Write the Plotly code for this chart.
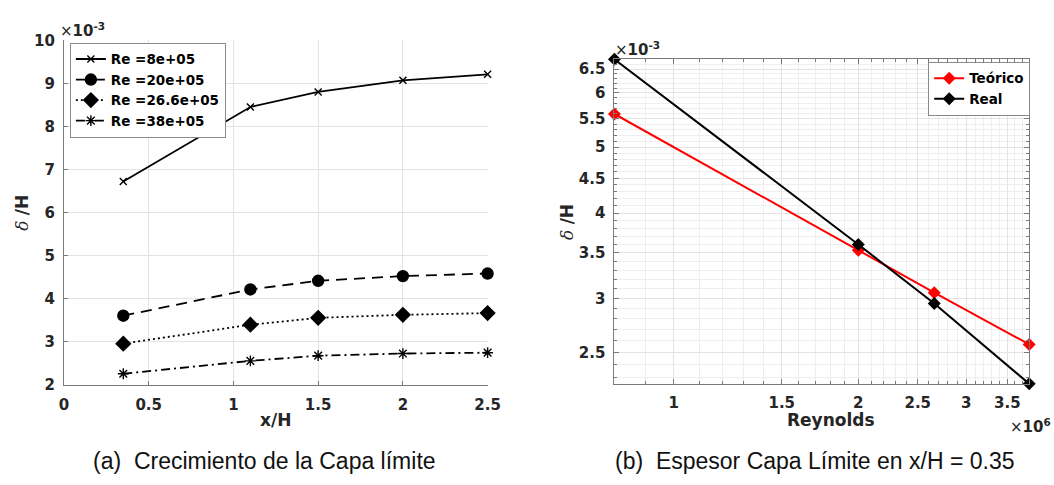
import numpy as np
import plotly.graph_objects as go

# ---- data ----
x_over_h = [0.35, 1.1, 1.5, 2.0, 2.5]
re_labels = ["Re =8e+05", "Re =20e+05", "Re =26.6e+05", "Re =38e+05"]
delta_re08 = [6.72, 8.45, 8.80, 9.07, 9.21]      # x1e-3
delta_re20 = [3.60, 4.21, 4.41, 4.52, 4.58]
delta_re266 = [2.95, 3.39, 3.55, 3.62, 3.66]
delta_re38 = [2.25, 2.55, 2.67, 2.72, 2.74]

reynolds = [0.8e6, 2.0e6, 2.66e6, 3.8e6]
delta_teorico = [5.59e-3, 3.53e-3, 3.06e-3, 2.57e-3]
delta_real = [6.72e-3, 3.60e-3, 2.95e-3, 2.25e-3]

left_xticks = [0, 0.5, 1, 1.5, 2, 2.5]
left_yticks = [2, 3, 4, 5, 6, 7, 8, 9, 10]
right_xticks = [1.0e6, 1.5e6, 2.0e6, 2.5e6, 3.0e6, 3.5e6]
right_xticktext = ["1", "1.5", "2", "2.5", "3", "3.5"]
right_yticks = [2.5e-3, 3.0e-3, 3.5e-3, 4.0e-3, 4.5e-3, 5.0e-3, 5.5e-3, 6.0e-3, 6.5e-3]
right_yticktext = ["2.5", "3", "3.5", "4", "4.5", "5", "5.5", "6", "6.5"]

# ---- styling ----
W, H = 1054, 485
TXT = "#262626"
AXC = "#7a7a7a"
GRID = "#e3e3e3"
MINOR_GRID = "#eeeeee"
TICKFONT = dict(family="DejaVu Sans", size=15, color=TXT, weight="bold")
LEGFONT = dict(family="DejaVu Sans", size=13.5, color="#000000", weight="bold")


def px_x(p):
    return p / W


def px_y(p):
    return 1 - p / H


fig = go.Figure()

# left panel: boundary-layer growth
left_series = [delta_re08, delta_re20, delta_re266, delta_re38]
left_dash = ["solid", "11px,7px", "2px,3px", "9px,4px,2px,4px"]
left_sym = ["x-thin", "circle", "diamond", "asterisk"]
left_msize = [7, 11, 11, 9]
for lab, ys, dash, sym, ms in zip(re_labels, left_series, left_dash, left_sym, left_msize):
    fig.add_trace(go.Scatter(
        x=x_over_h, y=ys, name=lab, mode="lines+markers",
        xaxis="x", yaxis="y", legend="legend", cliponaxis=False,
        line=dict(color="black", width=1.8, dash=dash),
        marker=dict(symbol=sym, size=ms, color="black",
                    line=dict(color="black", width=1.4)),
    ))

# right panel: thickness vs Reynolds (log-log)
fig.add_trace(go.Scatter(
    x=reynolds, y=delta_teorico, name="Teórico", mode="lines+markers",
    xaxis="x2", yaxis="y2", legend="legend2", cliponaxis=False,
    line=dict(color="#ff0000", width=2),
    marker=dict(symbol="diamond", size=10, color="#ff0000"),
))
fig.add_trace(go.Scatter(
    x=reynolds, y=delta_real, name="Real", mode="lines+markers",
    xaxis="x2", yaxis="y2", legend="legend2", cliponaxis=False,
    line=dict(color="#000000", width=2),
    marker=dict(symbol="diamond", size=10, color="#000000"),
))

# tight log ranges (tiny pad so end markers are not culled)
eps = 1e-5
rx = [np.log10(min(reynolds)) - eps, np.log10(max(reynolds)) + eps]
all_d = delta_teorico + delta_real
ry = [np.log10(min(all_d)) - eps, np.log10(max(all_d)) + eps]

x_minor = [v * 1e5 for v in range(8, 39) if v % 5 != 0]
y_minor = [v * 1e-4 for v in range(23, 68) if v % 5 != 0]

fig.update_layout(
    width=W, height=H, autosize=False,
    margin=dict(l=0, r=0, t=0, b=0),
    paper_bgcolor="white", plot_bgcolor="white",
    font=dict(family="DejaVu Sans", color=TXT),
    xaxis=dict(
        domain=[px_x(60), px_x(491)], anchor="y",
        range=[0, 2.5 + 1e-6], tickvals=left_xticks,
        ticktext=[f"{v:g}" for v in left_xticks],
        showgrid=True, gridcolor=GRID, gridwidth=1, zeroline=False,
        showline=True, linecolor=AXC, linewidth=1,
        ticks="inside", ticklen=4, tickcolor=AXC, tickfont=TICKFONT,
        ticklabelstandoff=6,
    ),
    yaxis=dict(
        domain=[px_y(390), px_y(32.5)], anchor="x",
        range=[2, 10], tickvals=left_yticks,
        showgrid=True, gridcolor=GRID, gridwidth=1, zeroline=False,
        showline=True, linecolor=AXC, linewidth=1,
        ticks="inside", ticklen=4, tickcolor=AXC, tickfont=TICKFONT,
        ticklabelstandoff=5,
    ),
    xaxis2=dict(
        domain=[px_x(620), px_x(1042)], anchor="y2", type="log",
        range=rx, tickvals=right_xticks, ticktext=right_xticktext,
        showgrid=True, gridcolor=GRID, zeroline=False,
        showline=True, linecolor=AXC, linewidth=1, mirror="allticks",
        ticks="inside", ticklen=5, tickcolor=AXC, tickfont=TICKFONT,
        ticklabelstandoff=5,
        minor=dict(tickmode="array", tickvals=x_minor, ticks="inside",
                   ticklen=3, tickcolor=AXC, showgrid=True,
                   gridcolor=MINOR_GRID, gridwidth=1),
    ),
    yaxis2=dict(
        domain=[px_y(389.3), px_y(52.3)], anchor="x2", type="log",
        range=ry, tickvals=right_yticks, ticktext=right_yticktext,
        showgrid=True, gridcolor=GRID, zeroline=False,
        showline=True, linecolor=AXC, linewidth=1, mirror="allticks",
        ticks="inside", ticklen=5, tickcolor=AXC, tickfont=TICKFONT,
        ticklabelstandoff=5,
        minor=dict(tickmode="array", tickvals=y_minor, ticks="inside",
                   ticklen=3, tickcolor=AXC, showgrid=True,
                   gridcolor=MINOR_GRID, gridwidth=1),
    ),
    legend=dict(
        x=px_x(66), y=px_y(35), xanchor="left", yanchor="top",
        bgcolor="white", bordercolor="#8a8a8a", borderwidth=1,
        font=LEGFONT, tracegroupgap=0, itemwidth=30,
    ),
    legend2=dict(
        x=px_x(1043), y=px_y(55), xanchor="right", yanchor="top",
        bgcolor="white", bordercolor="#8a8a8a", borderwidth=1,
        font=LEGFONT, tracegroupgap=0, itemwidth=30,
    ),
)

ylab = ("<span style='font-family:DejaVu Serif'><i>δ</i></span>"
        " <b>/H</b>")
ann = [
    # axis titles
    dict(text="<b>x/H</b>", x=px_x(275), y=px_y(427), size=17),
    dict(text="<b>Reynolds</b>", x=px_x(840), y=px_y(427), size=17),
    dict(text=ylab, x=px_x(17), y=px_y(212), textangle=-90, size=17),
    dict(text=ylab, x=px_x(572), y=px_y(221), textangle=-90, size=17),
    # exponent labels
    dict(text="<span style='font-weight:normal'>×</span><b>10<sup>-3</sup></b>",
         x=px_x(54), y=px_y(22), xanchor="left"),
    dict(text="<span style='font-weight:normal'>×</span><b>10<sup>-3</sup></b>",
         x=px_x(619), y=px_y(42), xanchor="left"),
    dict(text="<span style='font-weight:normal'>×</span><b>10<sup>6</sup></b>",
         x=px_x(1020), y=px_y(433), xanchor="left"),
]
for a in ann:
    a.setdefault("xanchor", "center")
    fsize = a.pop("size", 15)
    fig.add_annotation(xref="paper", yref="paper", showarrow=False,
                       yanchor="middle",
                       font=dict(family="DejaVu Sans", size=fsize, color=TXT),
                       **a)

# panel captions
cap_font = dict(family="Liberation Sans", size=23, color="#111111")
fig.add_annotation(text="(a)  Crecimiento de la Capa límite", x=px_x(264), y=px_y(469),
                   xref="paper", yref="paper", xanchor="center", yanchor="middle",
                   showarrow=False, font=cap_font)
fig.add_annotation(text="(b)  Espesor Capa Límite en x/H = 0.35", x=px_x(824), y=px_y(469),
                   xref="paper", yref="paper", xanchor="center", yanchor="middle",
                   showarrow=False, font=cap_font)

fig.write_html("out.html")
